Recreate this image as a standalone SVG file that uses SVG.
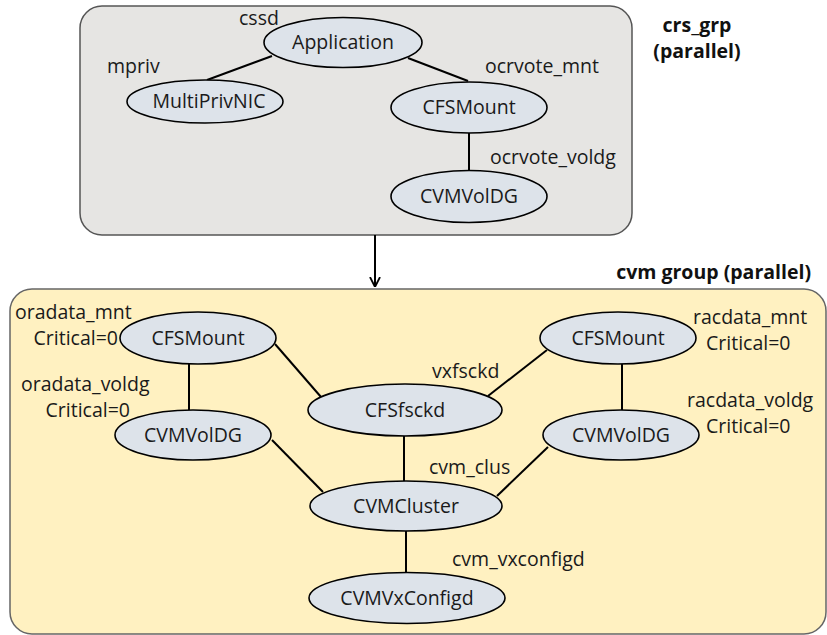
<svg xmlns="http://www.w3.org/2000/svg" width="827" height="635" viewBox="0 0 827 635">
<defs>
<style>
.t{font-family:"Open Sans","Noto Sans","Liberation Sans",sans-serif;font-size:19.5px;fill:#1a1a1a}
.n{text-anchor:middle}
.b{font-weight:bold;fill:#111}
.e{fill:#dde3ea;stroke:#000;stroke-width:1.6}
.c{stroke:#000;stroke-width:2;fill:none}
</style>
<marker id="ah" viewBox="0 0 10 12" refX="10" refY="6" markerWidth="10" markerHeight="12" markerUnits="userSpaceOnUse" orient="auto">
<path d="M0,1 L10,6 L0,11" fill="none" stroke="#000" stroke-width="1.8"/>
</marker>
</defs>
<rect width="827" height="635" fill="#fff"/>
<g id="crs_grp">
<rect x="80" y="6" width="552" height="229" rx="22" fill="#e6e5e3" stroke="#555" stroke-width="1.5"/>
<text class="t b n" x="697" y="32">crs_grp</text>
<text class="t b n" x="697" y="58">(parallel)</text>
</g>
<g id="cvm_group">
<rect x="10" y="289" width="816" height="345" rx="22" fill="#fff1c1" stroke="#666" stroke-width="1.5"/>
<text class="t b" x="811" y="279" text-anchor="end">cvm group (parallel)</text>
</g>
<g id="connectors">
<line class="c" x1="272" y1="56" x2="207" y2="80"/>
<line class="c" x1="408" y1="58" x2="468" y2="81"/>
<line class="c" x1="469" y1="133" x2="469" y2="171"/>
<line class="c" x1="375" y1="235" x2="375" y2="287" marker-end="url(#ah)"/>
<line class="c" x1="189" y1="364" x2="189" y2="410"/>
<line class="c" x1="275" y1="344" x2="321" y2="397"/>
<line class="c" x1="488" y1="396" x2="547" y2="350"/>
<line class="c" x1="622" y1="364" x2="622" y2="410"/>
<line class="c" x1="404" y1="436" x2="404" y2="481"/>
<line class="c" x1="272" y1="440" x2="323" y2="492"/>
<line class="c" x1="548" y1="447" x2="497" y2="496"/>
<line class="c" x1="406" y1="531" x2="406" y2="573"/>
</g>
<g id="application">
<ellipse class="e" cx="343" cy="42.5" rx="79" ry="25"/>
<text class="t n" x="343" y="49">Application</text>
<text class="t" x="239" y="25">cssd</text>
</g>
<g id="multiprivnic">
<ellipse class="e" cx="205" cy="101.5" rx="78" ry="21.5"/>
<text class="t n" x="209" y="108">MultiPrivNIC</text>
<text class="t" x="107" y="73">mpriv</text>
</g>
<g id="ocrvote_mnt">
<ellipse class="e" cx="469" cy="107.5" rx="78" ry="25.5"/>
<text class="t n" x="469" y="114">CFSMount</text>
<text class="t" x="485" y="73">ocrvote_mnt</text>
</g>
<g id="ocrvote_voldg">
<ellipse class="e" cx="469" cy="196.5" rx="78" ry="26"/>
<text class="t n" x="469" y="203">CVMVolDG</text>
<text class="t" x="490" y="164">ocrvote_voldg</text>
</g>
<g id="oradata_mnt">
<ellipse class="e" cx="198" cy="338" rx="78" ry="26"/>
<text class="t n" x="198" y="344.5">CFSMount</text>
<text class="t" x="15" y="319">oradata_mnt</text>
<text class="t" x="118" y="345" text-anchor="end">Critical=0</text>
</g>
<g id="oradata_voldg">
<ellipse class="e" cx="193" cy="435" rx="78" ry="25"/>
<text class="t n" x="193" y="441.5">CVMVolDG</text>
<text class="t" x="21" y="391">oradata_voldg</text>
<text class="t" x="130" y="417" text-anchor="end">Critical=0</text>
</g>
<g id="vxfsckd">
<ellipse class="e" cx="405" cy="410" rx="97" ry="26"/>
<text class="t n" x="405" y="416.5">CFSfsckd</text>
<text class="t" x="432" y="378">vxfsckd</text>
</g>
<g id="racdata_mnt">
<ellipse class="e" cx="618" cy="338" rx="78" ry="26"/>
<text class="t n" x="618" y="344.5">CFSMount</text>
<text class="t" x="693" y="324">racdata_mnt</text>
<text class="t" x="706" y="350">Critical=0</text>
</g>
<g id="racdata_voldg">
<ellipse class="e" cx="621" cy="435" rx="78" ry="25"/>
<text class="t n" x="621" y="441.5">CVMVolDG</text>
<text class="t" x="687" y="407">racdata_voldg</text>
<text class="t" x="706" y="433">Critical=0</text>
</g>
<g id="cvm_clus">
<ellipse class="e" cx="406" cy="506" rx="96" ry="25"/>
<text class="t n" x="406" y="512.5">CVMCluster</text>
<text class="t" x="429" y="474">cvm_clus</text>
</g>
<g id="cvm_vxconfigd">
<ellipse class="e" cx="407" cy="598" rx="98" ry="25.5"/>
<text class="t n" x="407" y="604.5">CVMVxConfigd</text>
<text class="t" x="452" y="566">cvm_vxconfigd</text>
</g>
</svg>
